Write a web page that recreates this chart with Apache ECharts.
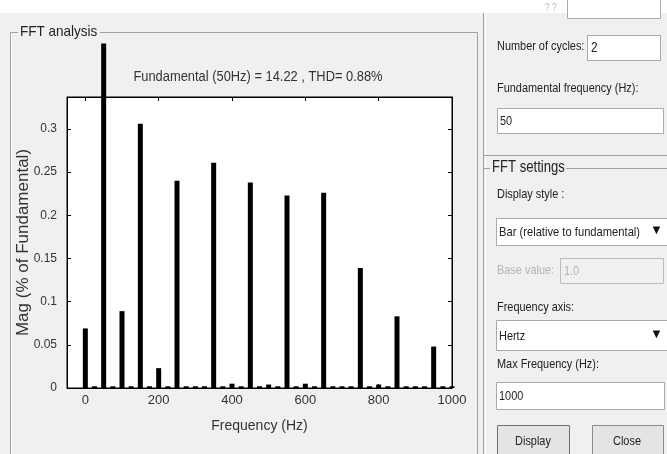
<!DOCTYPE html>
<html>
<head>
<meta charset="utf-8">
<script src="https://cdn.jsdelivr.net/npm/echarts@6/dist/echarts.min.js"></script>
<style>html,body{margin:0;padding:0;background:#f0f0f0;}#c{width:667px;height:454px;}</style>
</head>
<body>
<div id="c"></div>
<script>
var freqs = [0,25,50,75,100,125,150,175,200,225,250,275,300,325,350,375,400,425,450,475,500,525,550,575,600,625,650,675,700,725,750,775,800,825,850,875,900,925,950,975,1000];
var mags  = [0.069,0.002,0.399,0.002,0.089,0.002,0.306,0.002,0.023,0.002,0.240,0.002,0.002,0.002,0.261,0.002,0.005,0.002,0.238,0.002,0.004,0.002,0.223,0.002,0.005,0.002,0.226,0.002,0.002,0.002,0.139,0.002,0.004,0.002,0.083,0.002,0.002,0.002,0.048,0.002,0.002];
var xTicks = [0,200,400,600,800,1000];
var yTicks = [0,0.05,0.1,0.15,0.2,0.25,0.3];
var titleText = 'Fundamental (50Hz) = 14.22 , THD= 0.88%';

var NF = '"Liberation Sans",Arial,sans-serif';
var chart = echarts.init(document.getElementById('c'));

function line(x1,y1,x2,y2,c){return {type:'line',shape:{x1:x1,y1:y1,x2:x2,y2:y2},style:{stroke:c||'#a0a0a0',lineWidth:1},silent:true};}
function txt(x,y,t,opt){opt=opt||{};return {type:'text',x:x,y:y,scaleX:opt.sx||0.84,style:{text:t,fontFamily:NF,fontSize:opt.size||13,fill:opt.color||'#222',textVerticalAlign:'middle',textAlign:opt.align||'left'},silent:true};}
function box(x,y,w,h,fill,stroke){return {type:'rect',shape:{x:x,y:y,width:w,height:h},style:{fill:fill||'#fff',stroke:stroke||'#a9a9a9',lineWidth:1},silent:true};}

var g = [
  {type:'rect',shape:{x:0,y:0,width:667,height:13},style:{fill:'#ffffff'},silent:true,z:-10},
  // FFT analysis group box
  line(10.5,32.5,18,32.5), line(100,32.5,477.5,32.5),
  line(10.5,32.5,10.5,454), line(477.5,32.5,477.5,454),
  line(11.5,33.5,11.5,454,'#fff'),
  txt(20,32,'FFT analysis',{size:15,sx:0.9}),
  // title
  txt(258,77,titleText,{size:14,sx:0.92,align:'center',color:'#333'}),
  // divider
  line(483.5,13,483.5,454), line(485.5,13,485.5,454,'#fff'),
  // top partial textbox
  box(567.5,-5.5,93,24),
  txt(545,8,'? ?',{color:'#bbb',size:10}),
  // upper group bottom line
  line(483.5,155.5,667,155.5),
  txt(497,46,'Number of cycles:',{size:13}),
  box(587.5,35.5,73,25), txt(591,48,'2',{size:14}),
  txt(497,88,'Fundamental frequency (Hz):',{size:13}),
  box(497.5,108.5,166,25), txt(500,121,'50',{size:13}),
  // FFT settings group
  line(483.5,168.5,490,168.5), line(566,168.5,667,168.5),
  txt(492,168,'FFT settings',{size:16,sx:0.82}),
  txt(497,194,'Display style :',{size:13}),
  box(496.5,218.5,172,27), txt(499,232,'Bar (relative to fundamental)',{size:13,sx:0.86}),
  txt(650,230,'\u25BC',{size:13,color:'#111',sx:1}),
  txt(497,270,'Base value:',{size:13,color:'#b4b4b4'}),
  box(560.5,258.5,103,25,'#f0f0f0','#bbbbbb'), txt(564,271,'1.0',{size:13,color:'#b4b4b4'}),
  txt(497,307,'Frequency axis:',{size:13}),
  box(496.5,320.5,172,30), txt(499,336,'Hertz',{size:13}),
  txt(650,334,'\u25BC',{size:13,color:'#111',sx:1}),
  txt(497,364,'Max Frequency (Hz):',{size:13}),
  box(496.5,382.5,168,27), txt(499,396,'1000',{size:13}),
  box(497.5,425.5,72,30,'#e4e4e4','#707070'), txt(533,441,'Display',{size:13,align:'center'}),
  box(592.5,425.5,71,30,'#e4e4e4','#8a8a8a'), txt(627,441,'Close',{size:13,align:'center'})
];

var data = freqs.map(function(f,i){return [f,mags[i]];});
function plain(v){return String(v);}

chart.setOption({
  backgroundColor:'#f0f0f0',
  animation:false,
  grid:{left:67,right:215,top:97,bottom:66,containLabel:false,outerBoundsMode:'none',show:true,backgroundColor:'#fff',borderColor:'#000',borderWidth:1},
  xAxis:[{
    type:'value',min:-50,max:1000,position:'bottom',
    name:'Frequency (Hz)',nameLocation:'middle',nameGap:31,nameMoveOverlap:false,
    nameTextStyle:{fontFamily:NF,fontSize:14,color:'#333'},
    axisLine:{show:true,onZero:false,lineStyle:{color:'#000'}},
    axisTick:{show:true,inside:true,length:4,customValues:xTicks,lineStyle:{color:'#000'}},
    axisLabel:{show:true,customValues:xTicks,formatter:plain,margin:6,fontFamily:NF,fontSize:13,color:'#333'},
    splitLine:{show:false}
  },{
    type:'value',min:-50,max:1000,position:'top',
    axisLine:{show:true,onZero:false,lineStyle:{color:'#000'}},
    axisTick:{show:true,inside:true,length:4,customValues:xTicks,lineStyle:{color:'#000'}},
    axisLabel:{show:false},splitLine:{show:false}
  }],
  yAxis:[{
    type:'value',min:0,max:0.337,position:'left',
    name:'Mag (% of Fundamental)',nameLocation:'middle',nameGap:35,nameMoveOverlap:false,
    nameTextStyle:{fontFamily:NF,fontSize:17,color:'#333'},
    axisLine:{show:true,onZero:false,lineStyle:{color:'#000'}},
    axisTick:{show:true,inside:true,length:4,customValues:yTicks,lineStyle:{color:'#000'}},
    axisLabel:{show:true,customValues:yTicks,formatter:plain,margin:10,fontFamily:NF,fontSize:12,color:'#333'},
    splitLine:{show:false}
  },{
    type:'value',min:0,max:0.337,position:'right',
    axisLine:{show:true,onZero:false,lineStyle:{color:'#000'}},
    axisTick:{show:true,inside:true,length:4,customValues:yTicks,lineStyle:{color:'#000'}},
    axisLabel:{show:false},splitLine:{show:false}
  }],
  series:[{
    type:'bar',xAxisIndex:0,yAxisIndex:0,data:data,barWidth:5,clip:false,
    itemStyle:{color:'#000'},z:5
  }],
  graphic:g
});
</script>
</body>
</html>
